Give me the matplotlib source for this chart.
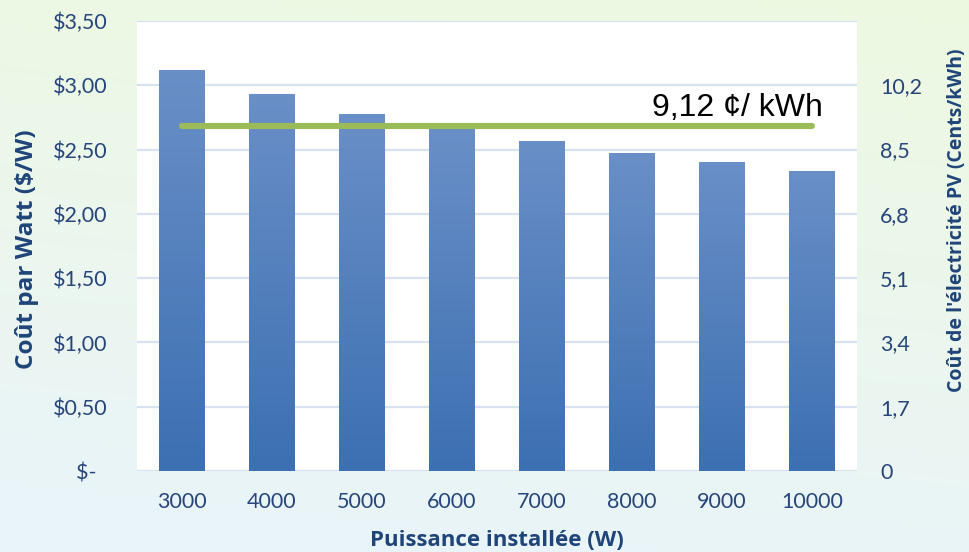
import numpy as np
import matplotlib
matplotlib.use("Agg")
import matplotlib.pyplot as plt
from matplotlib.colors import LinearSegmentedColormap
from matplotlib.ticker import FixedLocator, FuncFormatter

# Data
puissance = ["3000", "4000", "5000", "6000", "7000", "8000", "9000", "10000"]
cout_par_watt = [3.12, 2.93, 2.78, 2.66, 2.57, 2.47, 2.40, 2.33]
cout_kwh = [9.12, 9.12, 9.12, 9.12, 9.12, 9.12, 9.12, 9.12]
left_ticks = [0.0, 0.5, 1.0, 1.5, 2.0, 2.5, 3.0, 3.5]
right_ticks = [0.0, 1.7, 3.4, 5.1, 6.8, 8.5, 10.2]
annotation_text = "9,12 ¢/ kWh"

plt.rcParams["font.family"] = ["Lato", "DejaVu Sans"]

TICK_COLOR = "#27457a"
LABEL_COLOR = "#1f4478"
GRID_COLOR = "#d7e1f0"
TITLE_FONT = dict(family=["Open Sans", "DejaVu Sans"], fontweight="bold",
                  color=LABEL_COLOR)

fig = plt.figure(figsize=(9.7, 5.52), dpi=100)

# Soft green-to-blue backdrop behind the chart
bg = fig.add_axes([0, 0, 1, 1], zorder=-5)
bg.set_axis_off()
yy, xx = np.mgrid[0:1:200j, 0:1:200j]
t = np.clip(0.85 * yy + 0.15 * (1 - xx), 0, 1)
top = np.array([237, 249, 224]) / 255.0
bottom = np.array([233, 244, 251]) / 255.0
img = top[None, None, :] * (1 - t[..., None]) + bottom[None, None, :] * t[..., None]
bg.imshow(img, extent=[0, 1, 0, 1], aspect="auto", origin="upper")
bg.set_xlim(0, 1)
bg.set_ylim(0, 1)

ax = fig.add_axes([137 / 970, 81 / 552, 720 / 970, 450 / 552])
ax.set_facecolor("white")
x = np.arange(len(puissance))

bars = ax.bar(x, cout_par_watt, width=0.51, color="#4f7fc0", zorder=2)

# Vertical gradient fill for each bar
bar_cmap = LinearSegmentedColormap.from_list("barfill", ["#3c70b2", "#6a8fc7"])
grad = np.linspace(0, 1, 256).reshape(-1, 1)
for b in bars:
    x0, y0 = b.get_x(), b.get_y()
    w, h = b.get_width(), b.get_height()
    im = ax.imshow(grad, extent=[x0, x0 + w, y0, y0 + h], origin="lower",
                   aspect="auto", cmap=bar_cmap, zorder=2.1)
    im.set_clip_path(b)
    b.set_facecolor("none")

ax.set_xlim(-0.5, len(puissance) - 0.5)
ax.set_ylim(0, 3.5)
ax.set_aspect("auto")
ax.yaxis.set_major_locator(FixedLocator(left_ticks))


def dollar_fmt(v, pos):
    if abs(v) < 1e-9:
        return "$-  "
    return "$" + f"{v:.2f}".replace(".", ",")


ax.yaxis.set_major_formatter(FuncFormatter(dollar_fmt))
ax.set_xticks(x)
ax.set_xticklabels(puissance)
ax.grid(axis="y", color=GRID_COLOR, linewidth=1.6, zorder=1)
ax.set_axisbelow(True)
for s in ax.spines.values():
    s.set_visible(False)
ax.tick_params(axis="both", length=0, labelsize=15.5, labelcolor=TICK_COLOR)
ax.tick_params(axis="y", pad=21)
ax.tick_params(axis="x", pad=15)

# Secondary axis: electricity cost
ax2 = ax.twinx()
ax2.set_ylim(0, 11.9)
ax2.yaxis.set_major_locator(FixedLocator(right_ticks))
ax2.yaxis.set_major_formatter(
    FuncFormatter(lambda v, p: "0" if abs(v) < 1e-9 else f"{v:.1f}".replace(".", ",")))
ax2.tick_params(axis="y", length=0, labelsize=15.5, labelcolor=TICK_COLOR, pad=16.5)
for s in ax2.spines.values():
    s.set_visible(False)
ax2.patch.set_visible(False)

ax2.plot(x, cout_kwh, color="#9bbb59", linewidth=4.4, solid_capstyle="round", zorder=3)
ax2.annotate(annotation_text, xy=(x[-1], cout_kwh[-1]), xytext=(8, 7.5),
             textcoords="offset points", ha="right", va="baseline",
             fontsize=23, color="black", family=["Liberation Sans", "DejaVu Sans"])

# Axis titles
fig.text(27 / 970, 1 - 249 / 552, "Coût par Watt ($/W)", rotation=90,
         ha="center", va="center", fontsize=17.5, **TITLE_FONT)
fig.text(957 / 970, 1 - 220 / 552, "Coût de l'électricité PV (Cents/kWh)", rotation=90,
         ha="center", va="center", fontsize=14, **TITLE_FONT)
fig.text(497 / 970, 1 - 540 / 552, "Puissance installée (W)",
         ha="center", va="center", fontsize=16, **TITLE_FONT)

fig.savefig("out.png", dpi=100)
